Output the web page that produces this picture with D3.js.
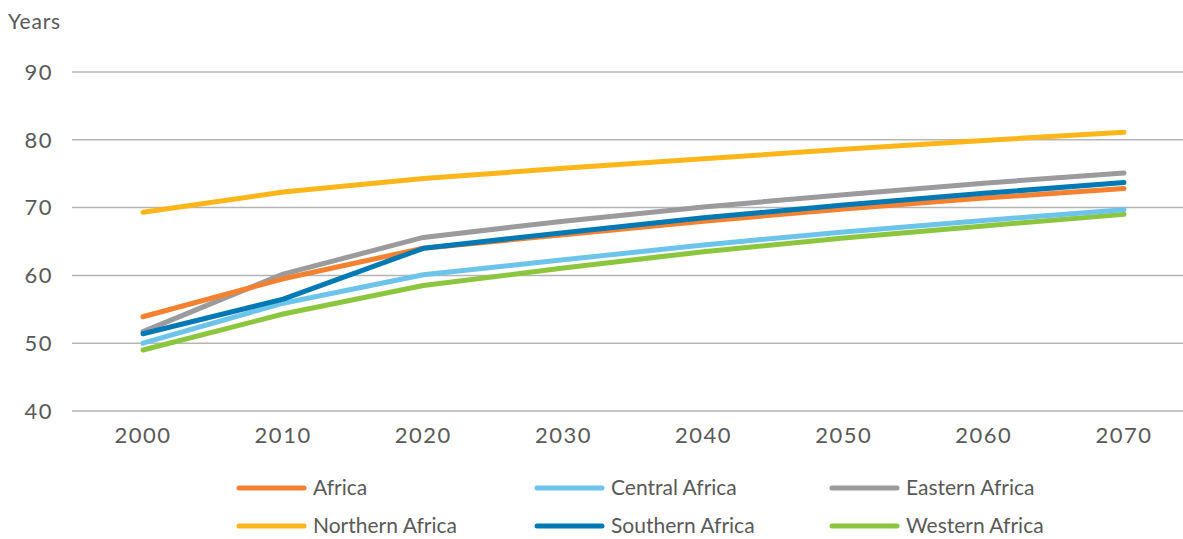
<!DOCTYPE html>
<html>
<head>
<meta charset="utf-8">
<script src="https://cdn.jsdelivr.net/npm/d3@7"></script>
<style>
  body { margin: 0; background: #fff; }
  text { font-family: Lato, "Open Sans", sans-serif; fill: #595959; }
</style>
</head>
<body>
<div id="chart"></div>
<script>
  var width = 1183,
      height = 539;

  var years = [2000, 2010, 2020, 2030, 2040, 2050, 2060, 2070];
  var yTicks = [40, 50, 60, 70, 80, 90];

  var africa   = [53.9, 59.5, 64.0, 66.0, 68.0, 69.8, 71.4, 72.8];
  var central  = [50.0, 55.9, 60.1, 62.3, 64.5, 66.4, 68.1, 69.7];
  var eastern  = [51.7, 60.2, 65.6, 68.0, 70.1, 71.9, 73.6, 75.1];
  var northern = [69.3, 72.3, 74.3, 75.8, 77.2, 78.6, 79.9, 81.1];
  var southern = [51.4, 56.5, 64.0, 66.3, 68.5, 70.4, 72.1, 73.7];
  var western  = [49.0, 54.3, 58.5, 61.1, 63.5, 65.5, 67.3, 69.0];

  var series = [
    {name: "Africa", values: africa, color: "#f4812f"},
    {name: "Central Africa", values: central, color: "#6cc4ea"},
    {name: "Eastern Africa", values: eastern, color: "#9b9b9e"},
    {name: "Northern Africa", values: northern, color: "#fdb61a"},
    {name: "Southern Africa", values: southern, color: "#0079b5"},
    {name: "Western Africa", values: western, color: "#8cc63f"}
  ];

  var svg = d3.select("#chart").append("svg")
      .attr("width", width)
      .attr("height", height);

  var x = d3.scalePoint()
      .domain(years)
      .range([143, 1124]);

  var y = d3.scaleLinear()
      .domain([40, 90])
      .range([411, 72]);

  // gridlines
  svg.append("g")
    .selectAll("line")
    .data(yTicks)
    .join("line")
      .attr("x1", 72)
      .attr("x2", width)
      .attr("y1", function(d) { return y(d); })
      .attr("y2", function(d) { return y(d); })
      .attr("stroke", "#b5b5b5")
      .attr("stroke-width", 1.5);

  // y tick labels
  svg.append("g")
    .selectAll("text")
    .data(yTicks)
    .join("text")
      .attr("x", 53)
      .attr("y", function(d) { return y(d); })
      .attr("dy", "0.35em")
      .attr("text-anchor", "end")
      .style("font-size", "22px")
      .style("letter-spacing", "1.5px")
      .text(function(d) { return d; });

  svg.append("text")
      .attr("x", 8)
      .attr("y", 29)
      .style("font-size", "21px")
      .style("letter-spacing", "0.8px")
      .text("Years");

  // x tick labels
  svg.append("g")
    .selectAll("text")
    .data(years)
    .join("text")
      .attr("x", function(d) { return x(d); })
      .attr("y", 443)
      .attr("text-anchor", "middle")
      .style("font-size", "22px")
      .style("letter-spacing", "1.5px")
      .text(function(d) { return d; });

  var line = d3.line()
      .x(function(d, i) { return x(years[i]); })
      .y(function(d) { return y(d); });

  // draw order: back to front (gray under blue/orange where they meet)
  var order = ["Northern Africa", "Western Africa", "Central Africa", "Eastern Africa", "Africa", "Southern Africa"];
  var drawn = order.map(function(n) { return series.find(function(s) { return s.name === n; }); });

  svg.append("g")
    .selectAll("path")
    .data(drawn)
    .join("path")
      .attr("d", function(d) { return line(d.values); })
      .attr("fill", "none")
      .attr("stroke", function(d) { return d.color; })
      .attr("stroke-width", 5)
      .attr("stroke-linecap", "round")
      .attr("stroke-linejoin", "round");

  // legend
  var legX = [237, 535, 830],
      legY = [488, 526];

  var leg = svg.append("g")
    .selectAll("g")
    .data(series)
    .join("g")
      .attr("transform", function(d, i) {
        return "translate(" + legX[i % 3] + "," + legY[Math.floor(i / 3)] + ")";
      });

  leg.append("line")
      .attr("x1", 2)
      .attr("x2", 67)
      .attr("stroke", function(d) { return d.color; })
      .attr("stroke-width", 5)
      .attr("stroke-linecap", "round");

  leg.append("text")
      .attr("x", 76)
      .attr("dy", "0.35em")
      .style("font-size", "21px")
      .text(function(d) { return d.name; });
</script>
</body>
</html>
